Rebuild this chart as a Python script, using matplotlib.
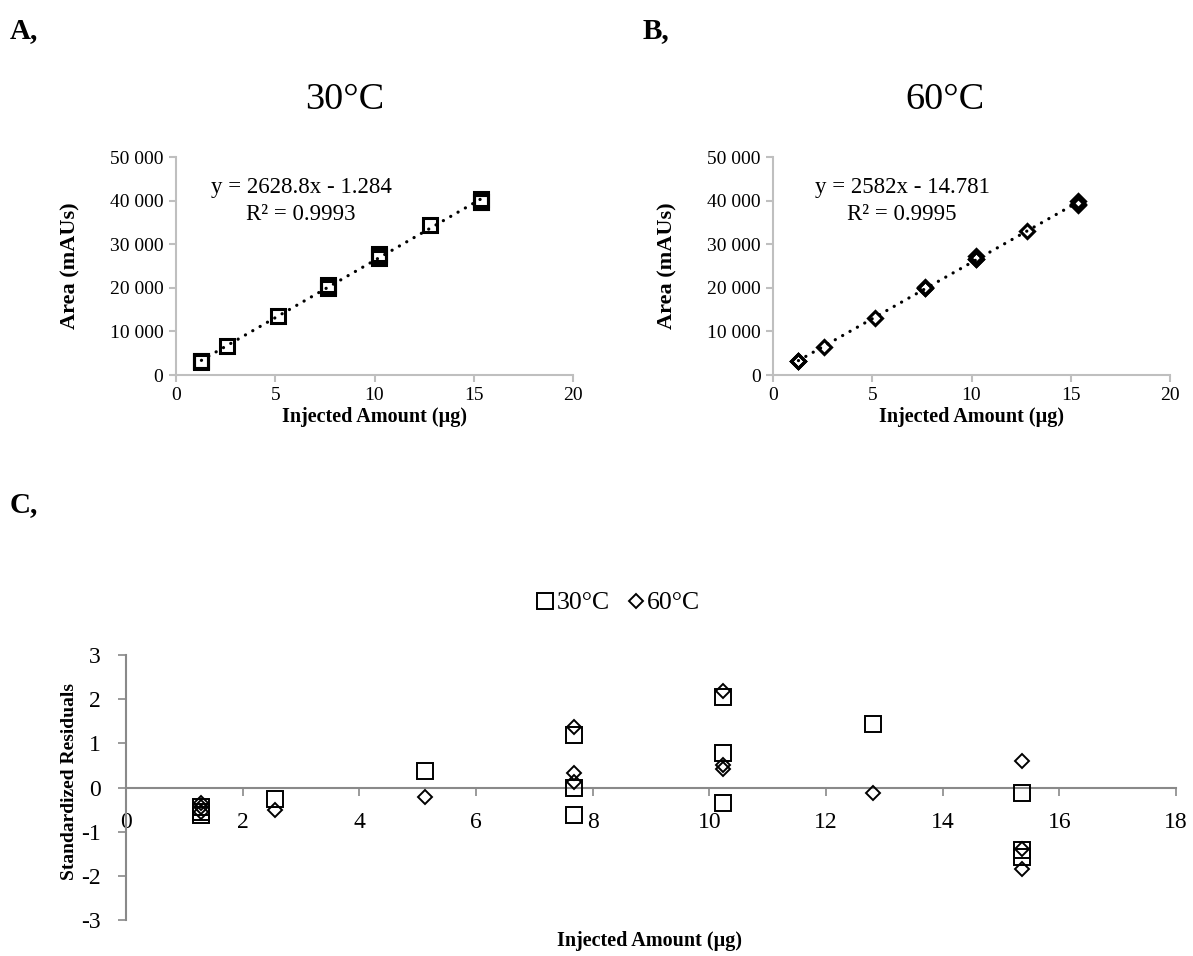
import numpy as np
import matplotlib
matplotlib.use("Agg")
import matplotlib.pyplot as plt
from matplotlib.ticker import FuncFormatter

plt.rcParams['font.family'] = ['Liberation Serif', 'DejaVu Serif']
plt.rcParams['axes.unicode_minus'] = False

# ---------------- data ----------------
x_30 = [1.28, 1.28, 1.28, 2.56, 5.12, 7.68, 7.68, 7.68, 10.24, 10.24, 10.24, 12.8, 15.36, 15.36, 15.36]
area_30 = [3160, 3115, 3095, 6620, 13625, 20730, 20190, 19905, 27836, 27265, 26765, 34290, 40315, 39746, 39665]

x_60 = [1.28, 1.28, 1.28, 2.56, 5.12, 7.68, 7.68, 7.68, 10.24, 10.24, 10.24, 12.8, 15.36, 15.36, 15.36]
area_60 = [3168, 3133, 3098, 6413, 13128, 20291, 19931, 19857, 27192, 26600, 26576, 32993, 39855, 39155, 38998]

resid_30 = [-0.45, -0.55, -0.62, -0.25, 0.37, 1.2, 0.0, -0.63, 2.04, 0.78, -0.34, 1.43, -0.12, -1.42, -1.58]
resid_60 = [-0.35, -0.45, -0.55, -0.52, -0.22, 1.36, 0.33, 0.12, 2.19, 0.5, 0.43, -0.12, 0.6, -1.4, -1.85]

eq_30 = ["y = 2628.8x - 1.284", "R² = 0.9993"]
eq_60 = ["y = 2582x - 14.781", "R² = 0.9995"]

area_ticks = [0, 10000, 20000, 30000, 40000, 50000]
amount_ticks = [0, 5, 10, 15, 20]
resid_xticks = [0, 2, 4, 6, 8, 10, 12, 14, 16, 18]
resid_yticks = [-3, -2, -1, 0, 1, 2, 3]

W, H = 1193, 956
fig = plt.figure(figsize=(W / 100, H / 100), dpi=100)

def fx(px):
    return px / W

def fy(py):
    return 1 - py / H

space_fmt = FuncFormatter(lambda v, p: f"{int(v):,}".replace(",", " "))

def calib_panel(rect, xs, ys, marker, ms, eq, title, title_x, label, label_x, eq_x):
    ax = fig.add_axes(rect)
    ax.plot(xs, ys, linestyle='none', marker=marker, ms=ms, mfc='none',
            mec='black', mew=2.2, zorder=3)
    coef = np.polyfit(xs, ys, 1)
    xl = np.array([min(xs), max(xs)])
    ax.plot(xl, np.polyval(coef, xl), color='black', lw=2.3,
            linestyle=(0, (0.05, 2.6)), dash_capstyle='round', zorder=4)
    ax.set_xlim(0, 20)
    ax.set_ylim(0, 50000)
    ax.set_xticks(amount_ticks)
    ax.set_yticks(area_ticks)
    ax.yaxis.set_major_formatter(space_fmt)
    for s in ['top', 'right']:
        ax.spines[s].set_visible(False)
    for s in ['left', 'bottom']:
        ax.spines[s].set_color('#BFBFBF')
        ax.spines[s].set_linewidth(1.5)
    ax.tick_params(axis='both', colors='#BFBFBF', length=5, width=1.5,
                   labelsize=14, labelcolor='black', pad=4)
    ax.set_xlabel("Injected Amount (µg)", fontsize=14.5, fontweight='bold', labelpad=2)
    ax.set_ylabel("Area (mAUs)", fontsize=16, fontweight='bold', labelpad=21)
    fig.text(fx(eq_x), fy(188), eq[0], ha='center', va='center', fontsize=16.5)
    fig.text(fx(eq_x), fy(215), eq[1], ha='center', va='center', fontsize=16.5)
    fig.text(fx(title_x), fy(100), title, ha='center', va='center', fontsize=27.5)
    fig.text(fx(label_x), fy(31), label, ha='left', va='center', fontsize=21, fontweight='bold')
    return ax

axA = calib_panel([fx(176), fy(375), fx(573) - fx(176), fy(157) - fy(375)],
                  x_30, area_30, 's', 10, eq_30, "30°C", 345, "A,", 10, 301)
axB = calib_panel([fx(773), fy(375), fx(1170) - fx(773), fy(157) - fy(375)],
                  x_60, area_60, 'D', 7, eq_60, "60°C", 945, "B,", 643, 902)

# ---------------- residual panel ----------------
axC = fig.add_axes([fx(126), fy(920), fx(1176) - fx(126), fy(655) - fy(920)])
axC.plot(x_30, resid_30, linestyle='none', marker='s', ms=12, mfc='none',
         mec='black', mew=1.4, label="30°C", zorder=3)
axC.plot(x_60, resid_60, linestyle='none', marker='D', ms=7.5, mfc='none',
         mec='black', mew=1.4, label="60°C", zorder=3)
axC.set_xlim(0, 18)
axC.set_ylim(-3, 3)
axC.set_xticks(resid_xticks)
axC.set_yticks(resid_yticks)
axC.spines['bottom'].set_position(('data', 0))
for s in ['top', 'right']:
    axC.spines[s].set_visible(False)
for s in ['left', 'bottom']:
    axC.spines[s].set_color('#898989')
    axC.spines[s].set_linewidth(1.5)
axC.tick_params(axis='both', colors='#898989', length=6, width=1.2,
                labelsize=17, labelcolor='black')
axC.tick_params(axis='x', pad=12)
axC.tick_params(axis='y', pad=12)
fig.text(fx(650), fy(941), "Injected Amount (µg)", ha='center', va='center',
         fontsize=14.5, fontweight='bold')
fig.text(fx(69), fy(782), "Standardized Residuals", ha='center', va='center',
         rotation=90, fontsize=14, fontweight='bold')
leg = axC.legend(loc='center', bbox_to_anchor=(fx(619), fy(603)),
                 bbox_transform=fig.transFigure, ncol=2, frameon=False,
                 fontsize=18.5, handlelength=0.6, handletextpad=0.15,
                 columnspacing=0.7, borderaxespad=0)
fig.text(fx(10), fy(505), "C,", ha='left', va='center', fontsize=21, fontweight='bold')

fig.savefig("out.png", dpi=100)
